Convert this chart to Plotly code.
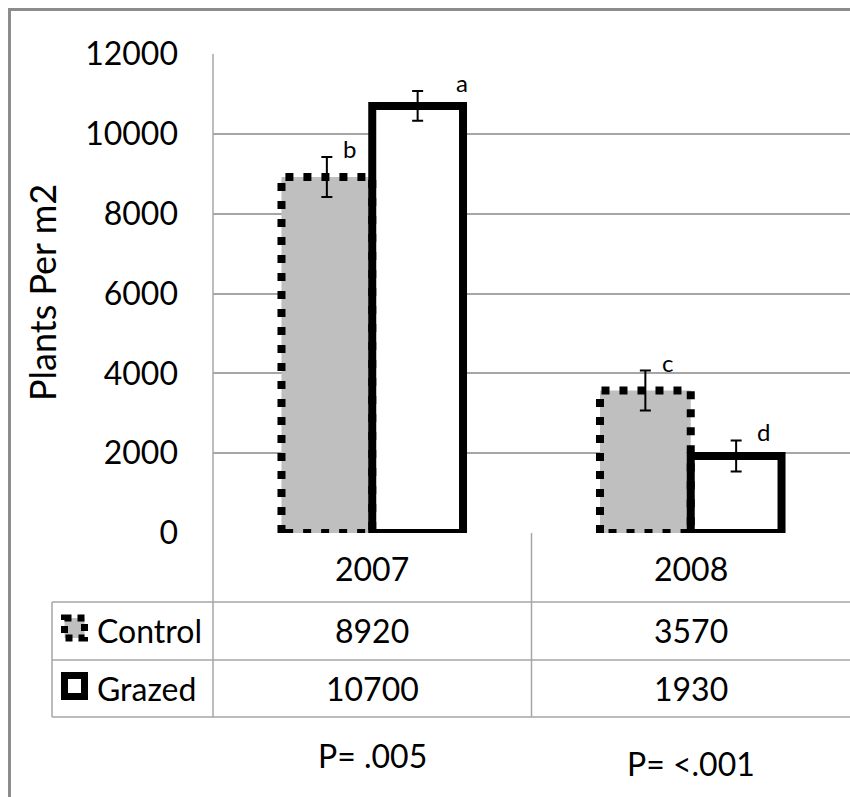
import plotly.graph_objects as go

# ---------------- data ----------------
years = ["2007", "2008"]
series_names = ["Control", "Grazed"]
control = [8920, 3570]
grazed = [10700, 1930]
control_err = [500, 500]
grazed_err = [370, 390]
control_letters = ["b", "c"]
grazed_letters = ["a", "d"]
p_values = ["P= .005", "P= <.001"]
y_ticks = [0, 2000, 4000, 6000, 8000, 10000, 12000]
y_title = "Plants Per m2"

# ---------------- layout geometry (page pixels) ----------------
W, H = 850, 797
PLOT_L, PLOT_R, PLOT_T, PLOT_B = 213, 850, 54, 533
L = PLOT_L
R = W - PLOT_R
T = PLOT_T
B = H - PLOT_B
PW = W - L - R
PH = H - T - B


def px(x):
    return (x - PLOT_L) / PW


def py(y):
    return (PLOT_B - y) / PH


FONT = "Lato"
GRID = "#A6A6A6"
bw = 0.285
xs = list(range(len(years)))

fig = go.Figure()

# Control fill
fig.add_trace(go.Bar(
    x=xs, y=control, width=bw, offset=-bw,
    marker=dict(color="#BFBFBF", line=dict(width=0)),
    error_y=dict(type="data", array=control_err, color="black", thickness=2, width=5.5),
    cliponaxis=False, name=series_names[0], hoverinfo="skip",
))

# Control dotted outline (derived from the data)
ox, oy = [], []
for i, v in zip(xs, control):
    ox += [i - bw, i - bw, i, i, i - bw, None]
    oy += [0, v, v, 0, 0, None]
fig.add_trace(go.Scatter(
    x=ox, y=oy, mode="lines",
    line=dict(color="black", width=8, dash="8px,10px"),
    cliponaxis=False, hoverinfo="skip", showlegend=False,
))

# Grazed bars
fig.add_trace(go.Bar(
    x=xs, y=grazed, width=bw, offset=0,
    marker=dict(color="white", line=dict(color="black", width=8)),
    error_y=dict(type="data", array=grazed_err, color="black", thickness=2, width=5.5),
    cliponaxis=False, name=series_names[1], hoverinfo="skip",
))

annotations = []
# significance letters
ctrl_shift = [14, 15]
graz_shift = [36, 19]
for i in xs:
    annotations.append(dict(
        x=i - bw / 2, y=control[i] + control_err[i], xref="x", yref="y",
        text=control_letters[i], showarrow=False, xanchor="left", yanchor="bottom",
        xshift=ctrl_shift[i], yshift=-8, font=dict(family=FONT, size=24, color="black")))
    annotations.append(dict(
        x=i + bw / 2, y=grazed[i] + grazed_err[i], xref="x", yref="y",
        text=grazed_letters[i], showarrow=False, xanchor="left", yanchor="bottom",
        xshift=graz_shift[i], yshift=-8, font=dict(family=FONT, size=24, color="black")))

# data table text
TS = 32
row_y = {"cat": 568, "Control": 630, "Grazed": 688}
for i in xs:
    annotations.append(dict(x=i, y=py(row_y["cat"]), xref="x", yref="paper",
                            text=years[i], showarrow=False, yanchor="middle",
                            font=dict(family=FONT, size=TS, color="black")))
    annotations.append(dict(x=i, y=py(row_y["Control"]), xref="x", yref="paper",
                            text=str(control[i]), showarrow=False, yanchor="middle",
                            font=dict(family=FONT, size=TS, color="black")))
    annotations.append(dict(x=i, y=py(row_y["Grazed"]), xref="x", yref="paper",
                            text=str(grazed[i]), showarrow=False, yanchor="middle",
                            font=dict(family=FONT, size=TS, color="black")))

for name in series_names:
    annotations.append(dict(x=px(95), y=py(row_y[name]), xref="paper", yref="paper",
                            text=name, showarrow=False, xanchor="left", yanchor="middle",
                            font=dict(family=FONT, size=TS, color="black")))

p_y_px = [755, 763]
for i in xs:
    annotations.append(dict(x=i, y=py(p_y_px[i]), xref="x", yref="paper",
                            text=p_values[i], showarrow=False, yanchor="middle",
                            font=dict(family=FONT, size=TS, color="black")))

annotations.append(dict(x=px(42), y=py(293), xref="paper", yref="paper",
                        text=y_title, showarrow=False, textangle=-90,
                        xanchor="center", yanchor="middle",
                        font=dict(family=FONT, size=36, color="black")))

shapes = []


def line(x0, y0, x1, y1, color=GRID, width=1.5):
    shapes.append(dict(type="line", xref="paper", yref="paper",
                       x0=px(x0), y0=py(y0), x1=px(x1), y1=py(y1),
                       line=dict(color=color, width=width)))


# table grid
for yy in [602, 660, 717]:
    line(52, yy, 850, yy)
line(52, 602, 52, 717)
line(213, 54, 213, 717)
line(531.5, 533, 531.5, 717)

# legend keys in table
shapes.append(dict(type="rect", xref="paper", yref="paper",
                   x0=px(64.5), x1=px(84.5), y0=py(618), y1=py(638),
                   fillcolor="#BFBFBF", line=dict(color="black", width=7, dash="7px,6px")))
shapes.append(dict(type="rect", xref="paper", yref="paper",
                   x0=px(64.5), x1=px(84.5), y0=py(675.5), y1=py(696.5),
                   fillcolor="white", line=dict(color="black", width=7)))

# outer chart border: only its top and left edges fall inside the picture
line(8, 9.5, 850, 9.5, color="#8C8C8C", width=3)
line(9.5, 8, 9.5, 797, color="#8C8C8C", width=3)

fig.update_layout(
    width=W, height=H,
    margin=dict(l=L, r=R, t=T, b=B, pad=0),
    paper_bgcolor="white", plot_bgcolor="white",
    barmode="overlay", showlegend=False,
    font=dict(family=FONT, size=TS, color="black"),
    xaxis=dict(range=[-0.5, 1.5], showticklabels=False, showgrid=False,
               zeroline=False, showline=False, fixedrange=True),
    yaxis=dict(range=[0, 12000], tickvals=y_ticks, ticktext=[str(t) for t in y_ticks],
               showgrid=True, gridcolor=GRID, gridwidth=1.5, zeroline=False,
               showline=False, ticks="", ticklabelstandoff=34,
               tickfont=dict(family=FONT, size=TS, color="black"), fixedrange=True),
    annotations=annotations, shapes=shapes,
)

fig.write_html(
    "out.html",
    config={"displayModeBar": False},
    post_script="document.body.style.margin='0';document.body.style.overflow='hidden';"
                "document.documentElement.style.overflow='hidden';",
)
